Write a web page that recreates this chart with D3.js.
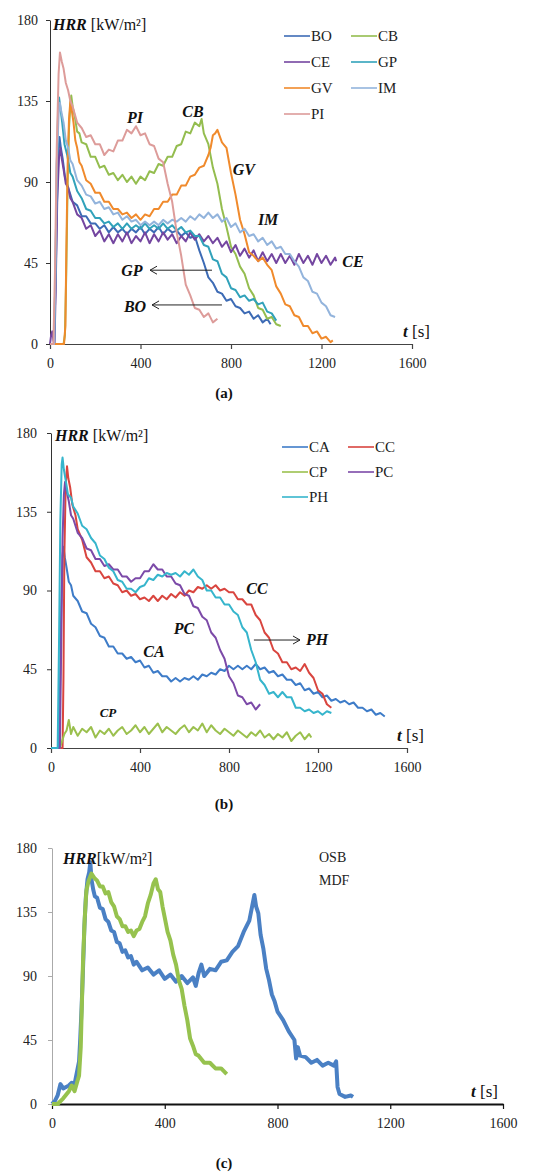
<!DOCTYPE html>
<html>
<head>
<meta charset="utf-8">
<script src="https://cdn.jsdelivr.net/npm/d3@7"></script>
<style>
  body { margin: 0; background: #fff; }
  svg { display: block; font-family: "Liberation Serif", "Times New Roman", serif; }
</style>
</head>
<body>
<svg id="chart" width="552" height="1174"></svg>
<script>
// tick labels
const xTicks = [0, 400, 800, 1200, 1600];
const yTicks = [0, 45, 90, 135, 180];

// panel (a) series: [t (s), HRR (kW/m2)]
const BO = [[0,0],[18,0],[24,30],[32,85],[38,108],[42,115],[48,109],[56,103],[66,93],[80,87],[100,79],[120,77],[140,71],[160,71],[180,67],[200,67],[220,64],[240,66],[260,62],[280,65],[300,62],[320,64],[340,61],[360,64],[380,62],[400,65],[420,61],[440,64],[460,62],[480,65],[500,61],[520,64],[540,62],[560,63],[580,60],[600,62],[620,59],[640,60],[660,52],[680,45],[700,37],[720,34],[740,29],[760,28],[780,24],[800,25],[820,21],[840,20],[860,17],[880,18],[900,14],[920,16],[940,12],[960,14],[975,11]];
const CB = [[0,0],[60,0],[66,5],[72,40],[78,90],[84,120],[90,133],[94,138],[100,132],[110,126],[120,118],[130,117],[140,112],[160,111],[180,104],[200,104],[220,98],[240,99],[260,94],[280,95],[300,91],[320,94],[340,90],[360,93],[380,89],[400,93],[420,91],[440,96],[460,95],[480,100],[500,99],[520,104],[540,104],[560,110],[580,111],[600,118],[620,117],[640,123],[660,121],[670,125],[680,117],[700,111],[720,98],[740,89],[760,75],[780,65],[800,54],[820,50],[840,43],[860,39],[880,31],[900,27],[920,20],[940,19],[960,14],[980,15],[1000,11],[1020,10]];
const CE = [[0,0],[5,5],[10,7],[15,2],[20,0],[25,30],[32,80],[40,104],[46,109],[52,103],[60,97],[70,89],[80,87],[90,81],[100,79],[120,72],[140,70],[160,64],[180,66],[200,60],[220,63],[240,57],[260,61],[280,56],[300,61],[320,57],[340,62],[360,56],[380,60],[400,57],[420,62],[440,56],[460,61],[480,57],[500,62],[520,58],[540,61],[560,56],[580,60],[600,57],[620,62],[640,58],[660,61],[680,57],[700,60],[720,56],[740,59],[760,54],[780,57],[800,51],[820,55],[840,49],[860,53],[880,48],[900,52],[920,46],[940,51],[960,46],[980,50],[1000,45],[1020,50],[1040,45],[1060,49],[1080,44],[1100,50],[1120,45],[1140,49],[1160,44],[1180,50],[1200,45],[1220,49],[1240,44],[1260,48],[1265,46]];
const GP = [[0,0],[18,0],[24,40],[30,100],[36,130],[40,137],[46,131],[54,123],[64,111],[76,105],[90,95],[100,93],[120,85],[140,81],[160,75],[180,74],[200,70],[220,70],[240,67],[260,68],[280,65],[300,67],[320,64],[340,67],[360,64],[380,66],[400,64],[420,67],[440,64],[460,66],[480,64],[500,67],[520,64],[540,66],[560,63],[580,65],[600,62],[620,63],[640,60],[660,60],[680,55],[700,54],[720,47],[740,46],[760,39],[780,37],[800,31],[820,30],[840,26],[860,27],[880,24],[900,25],[920,22],[940,23],[960,18],[980,17],[1000,13]];
const GV = [[0,0],[62,0],[68,10],[72,50],[78,100],[84,125],[90,135],[96,130],[104,123],[112,113],[120,109],[130,101],[140,99],[160,91],[180,89],[200,84],[220,84],[240,79],[260,79],[280,75],[300,75],[320,72],[340,73],[360,70],[380,72],[400,69],[420,72],[440,71],[460,75],[480,75],[500,79],[520,79],[540,83],[560,83],[580,88],[600,88],[620,93],[640,94],[660,98],[680,99],[700,105],[710,109],[720,116],[730,117],[740,119],[760,112],[780,109],[800,95],[820,83],[840,69],[860,61],[880,51],[900,49],[920,46],[940,48],[960,44],[980,41],[1000,32],[1020,28],[1040,22],[1060,21],[1080,16],[1100,15],[1120,10],[1140,10],[1160,6],[1180,7],[1200,3],[1220,4],[1240,1],[1250,2]];
const IM = [[0,0],[18,0],[24,40],[30,100],[38,128],[44,134],[50,129],[60,123],[70,113],[80,109],[90,102],[100,100],[120,91],[140,88],[160,83],[180,82],[200,78],[220,79],[240,75],[260,76],[280,72],[300,73],[320,69],[340,71],[360,68],[380,69],[400,66],[420,68],[440,66],[460,68],[480,66],[500,69],[520,67],[540,69],[560,68],[580,70],[600,68],[620,71],[640,69],[660,72],[680,70],[700,73],[720,70],[740,72],[760,68],[780,70],[800,65],[820,67],[840,62],[860,64],[880,60],[900,61],[920,57],[940,59],[960,55],[980,57],[1000,53],[1020,54],[1040,50],[1060,50],[1080,46],[1100,43],[1120,37],[1140,35],[1160,29],[1180,28],[1200,23],[1220,21],[1240,16],[1260,15]];
const PI = [[0,0],[15,0],[22,40],[30,110],[38,150],[44,162],[52,157],[60,153],[70,145],[80,141],[90,135],[100,132],[120,123],[140,120],[160,115],[180,116],[200,111],[220,111],[240,105],[260,108],[280,107],[300,113],[320,113],[340,119],[360,117],[380,121],[400,116],[420,117],[440,111],[460,110],[480,103],[500,101],[520,89],[540,79],[560,62],[580,49],[600,33],[620,27],[640,20],[660,19],[680,15],[700,17],[720,12],[740,14]];

// panel (b) series
const CA = [[0,0],[35,0],[40,30],[46,80],[52,110],[56,115],[62,109],[70,103],[80,95],[90,93],[100,87],[120,84],[140,78],[160,77],[180,71],[200,69],[220,64],[240,63],[260,58],[280,58],[300,54],[320,54],[340,51],[360,52],[380,49],[400,50],[420,46],[440,47],[460,43],[480,44],[500,41],[520,41],[540,38],[560,40],[580,38],[600,40],[620,39],[640,41],[660,39],[680,42],[700,41],[720,43],[740,42],[760,45],[780,44],[800,47],[820,45],[840,47],[860,45],[880,47],[900,45],[920,48],[940,45],[960,46],[980,43],[1000,44],[1020,41],[1040,42],[1060,39],[1080,39],[1100,36],[1120,37],[1140,33],[1160,34],[1180,31],[1200,32],[1220,29],[1240,30],[1260,27],[1280,28],[1300,26],[1320,27],[1340,25],[1360,26],[1380,23],[1400,23],[1420,21],[1440,22],[1460,19],[1480,20],[1500,18]];
const CC = [[0,0],[52,0],[56,40],[60,110],[66,150],[72,161],[78,154],[86,149],[96,139],[110,133],[120,125],[140,119],[160,109],[180,106],[200,101],[220,101],[240,97],[260,98],[280,94],[300,93],[320,89],[340,90],[360,87],[380,88],[400,85],[420,86],[440,84],[460,87],[480,84],[500,87],[520,85],[540,88],[560,86],[580,89],[600,87],[620,90],[640,89],[660,92],[680,91],[700,93],[720,91],[740,93],[760,90],[780,91],[800,89],[820,89],[840,85],[860,85],[880,82],[900,82],[920,76],[940,73],[960,66],[980,63],[1000,56],[1020,54],[1040,49],[1060,49],[1080,45],[1100,46],[1120,44],[1140,48],[1160,43],[1180,40],[1200,33],[1220,31],[1240,25],[1260,23]];
const CP = [[0,0],[40,0],[50,4],[60,8],[70,10],[80,16],[90,8],[100,12],[120,7],[140,11],[160,9],[180,12],[200,6],[220,10],[240,8],[260,11],[280,7],[300,10],[320,12],[340,8],[360,10],[380,13],[400,9],[420,12],[440,8],[460,11],[480,14],[500,9],[520,12],[540,10],[560,8],[580,11],[600,13],[620,9],[640,12],[660,10],[680,14],[700,9],[720,13],[740,10],[760,8],[780,11],[800,9],[820,7],[840,10],[860,8],[880,6],[900,9],[920,7],[940,10],[960,6],[980,8],[1000,5],[1020,8],[1040,6],[1060,9],[1080,4],[1100,7],[1120,9],[1140,5],[1160,8],[1170,6]];
const PC = [[0,0],[40,0],[46,60],[52,120],[58,145],[63,152],[70,147],[80,141],[90,133],[100,131],[120,123],[140,120],[160,114],[180,113],[200,108],[220,108],[240,104],[260,105],[280,102],[300,102],[320,98],[340,98],[360,95],[380,97],[400,97],[420,101],[440,101],[460,105],[480,102],[500,102],[520,98],[540,98],[560,94],[580,93],[600,88],[620,87],[640,81],[660,80],[680,75],[700,73],[720,66],[740,63],[760,56],[780,51],[800,41],[820,37],[840,30],[860,29],[880,25],[900,26],[920,22],[940,25]];
const PH = [[0,0],[30,0],[36,60],[42,130],[48,162],[52,166],[58,159],[66,153],[76,145],[90,143],[100,138],[120,134],[140,127],[160,125],[180,120],[200,117],[220,110],[240,108],[260,103],[280,101],[300,96],[320,95],[340,91],[360,91],[380,89],[400,92],[420,93],[440,97],[460,96],[480,99],[500,98],[520,100],[540,99],[560,100],[580,98],[600,101],[620,99],[640,102],[660,98],[680,96],[700,90],[720,90],[740,86],[760,86],[780,82],[800,82],[820,78],[840,76],[860,69],[880,66],[900,56],[920,49],[940,39],[960,36],[980,31],[1000,32],[1020,29],[1040,32],[1060,29],[1080,29],[1100,23],[1120,23],[1140,21],[1160,22],[1180,20],[1200,21],[1220,19],[1240,21],[1260,20]];

// panel (c) series
const OSB = [[0,0],[10,2],[20,6],[30,14],[40,11],[50,12],[60,13],[70,15],[80,14],[90,24],[96,30],[100,45],[105,68],[110,95],[115,125],[120,145],[126,158],[132,163],[136,170],[140,158],[146,151],[152,146],[160,145],[170,138],[180,137],[190,130],[200,128],[210,122],[220,121],[230,114],[240,113],[250,107],[260,108],[270,103],[280,104],[290,98],[300,100],[320,94],[340,96],[360,91],[380,94],[400,88],[420,91],[440,86],[460,90],[480,85],[500,89],[510,83],[520,92],[530,98],[540,90],[560,95],[580,94],[600,100],[620,101],[640,107],[660,111],[680,121],[700,129],[710,139],[718,147],[724,139],[732,134],[740,119],[750,109],[760,95],[770,87],[780,77],[790,72],[800,65],[820,59],[840,51],[860,45],[866,32],[872,40],[880,34],[900,33],[920,29],[940,31],[960,27],[980,29],[1000,27],[1008,30],[1013,12],[1020,7],[1040,5],[1060,6],[1068,5]];
const MDF = [[0,0],[20,0],[40,4],[60,9],[70,13],[80,9],[90,16],[96,20],[102,40],[106,70],[110,100],[116,130],[122,150],[130,157],[140,162],[150,159],[160,157],[170,153],[180,153],[190,148],[200,149],[210,142],[220,139],[230,132],[240,130],[250,125],[260,125],[270,121],[280,122],[290,118],[300,122],[310,123],[320,128],[330,132],[340,141],[350,147],[360,155],[368,158],[376,151],[384,149],[392,139],[400,131],[410,121],[420,115],[430,105],[440,98],[450,87],[460,81],[470,69],[480,59],[490,46],[500,41],[510,35],[520,34],[540,29],[560,29],[580,25],[600,25],[620,21]];

// which series go in which panel (legend order)
const namesA = ["BO", "CB", "CE", "GP", "GV", "IM", "PI"];
const namesB = ["CA", "CC", "CP", "PC", "PH"];
const namesC = ["OSB", "MDF"];
const seriesData = { BO, CB, CE, GP, GV, IM, PI, CA, CC, CP, PC, PH, OSB, MDF };

// curve labels in data coords [text, t, hrr]
const notesA = [["PI", 376, 123], ["CB", 632, 126], ["GV", 857, 94], ["IM", 964, 66], ["CE", 1339, 43], ["GP", 362, 38], ["BO", 376, 18]];
const notesB = [["CC", 926, 88], ["PC", 598, 65], ["PH", 1196, 59], ["CA", 463, 52]];

const colors = {
  BO: "#3d6bb5", CB: "#94bd4f", CE: "#7446a0", GP: "#31a2ba", GV: "#f08a2c", IM: "#93b4dc", PI: "#dd9c9a",
  CA: "#3e7cc8", CC: "#d9453f", CP: "#9bc04e", PC: "#7c4aa8", PH: "#36b5cc",
  OSB: "#4a80c4", MDF: "#96c24e"
};

const serif = "Liberation Serif";
const svg = d3.select("#chart");

function panel(cfg) {
  const x = d3.scaleLinear().domain([0, 1600]).range([cfg.x0, cfg.x1]);
  const y = d3.scaleLinear().domain([0, 180]).range([cfg.y0, cfg.y1]);
  const g = svg.append("g");

  // axes
  const ya = g.append("g")
    .attr("transform", `translate(${cfg.x0},0)`)
    .call(d3.axisLeft(y).tickValues(yTicks).tickFormat(d3.format("d")).tickSize(4).tickSizeOuter(0).tickPadding(cfg.yPad));
  ya.select(".domain").attr("stroke", cfg.yAxisColor);
  ya.selectAll(".tick line").attr("stroke", cfg.yAxisColor);

  const xa = g.append("g")
    .attr("transform", `translate(0,${cfg.y0})`)
    .call(d3.axisBottom(x).tickValues(xTicks).tickFormat(d3.format("d")).tickSize(5).tickSizeOuter(0).tickPadding(9));
  xa.select(".domain").attr("stroke", cfg.xAxisColor).attr("stroke-width", cfg.xAxisWidth);
  xa.selectAll(".tick line").attr("stroke", cfg.xAxisColor).attr("stroke-width", 1.2);

  [ya, xa].forEach(a => a.attr("font-family", serif).attr("font-size", 14));
  g.selectAll(".tick text").attr("fill", "#222");

  // curves
  const line = d3.line().x(d => x(d[0])).y(d => y(d[1]));
  cfg.names.forEach(n => {
    g.append("path")
      .datum(seriesData[n])
      .attr("fill", "none")
      .attr("stroke", colors[n])
      .attr("stroke-width", cfg.lineWidth)
      .attr("stroke-linejoin", "round")
      .attr("d", line);
  });

  // axis titles
  const ht = g.append("text").attr("x", cfg.titleX).attr("y", cfg.titleY).attr("font-size", 16).attr("fill", "#111");
  ht.append("tspan").attr("font-weight", "bold").attr("font-style", "italic").text("HRR");
  ht.append("tspan").text(cfg.titleGap + "[kW/m²]");

  const tt = g.append("text").attr("x", cfg.x1 + cfg.tDx).attr("y", cfg.y0 - 7).attr("text-anchor", "end")
    .attr("font-size", 17).attr("fill", "#111");
  tt.append("tspan").attr("font-weight", "bold").attr("font-style", "italic").text("t");
  tt.append("tspan").text(" [s]");

  // panel caption
  g.append("text").attr("x", 224).attr("y", cfg.capY).attr("text-anchor", "middle")
    .attr("font-size", 15).attr("font-weight", "bold").attr("fill", "#111").text(cfg.caption);

  return { g, x, y };
}

function legend(g, names, cols, ly, rowH) {
  names.forEach((n, i) => {
    const r = Math.floor(i / 2), c = i % 2;
    const x0 = cols[c], yy = ly + r * rowH;
    g.append("line").attr("x1", x0).attr("x2", x0 + 26).attr("y1", yy).attr("y2", yy)
      .attr("stroke", colors[n]).attr("stroke-width", 1.6);
    g.append("text").attr("x", x0 + 27).attr("y", yy + 5).attr("font-size", 15).attr("fill", "#222").text(n);
  });
}

function notes(p, list, size) {
  list.forEach(d => {
    p.g.append("text").attr("x", p.x(d[1])).attr("y", p.y(d[2])).attr("text-anchor", "middle")
      .attr("font-size", size).attr("font-weight", "bold").attr("font-style", "italic").attr("fill", "#111").text(d[0]);
  });
}

function arrow(p, t1, t2, v) {
  const xa = p.x(t1), xb = p.x(t2), yy = p.y(v);
  const dir = xb > xa ? -1 : 1;
  p.g.append("path")
    .attr("d", `M${xa},${yy}L${xb},${yy}M${xb + dir * 7},${yy - 4}L${xb},${yy}L${xb + dir * 7},${yy + 4}`)
    .attr("fill", "none").attr("stroke", "#222").attr("stroke-width", 1);
}

// (a)
const pa = panel({ x0: 50, x1: 412, y0: 344, y1: 20, names: namesA, lineWidth: 2, yPad: 8,
  yAxisColor: "#333", xAxisColor: "#444", xAxisWidth: 1.2, titleX: 53, titleY: 30, titleGap: " ",
  tDx: 18, caption: "(a)", capY: 398 });
legend(pa.g, namesA, [284, 351], 36, 26);
notes(pa, notesA, 16);
arrow(pa, 716, 442, 41);
arrow(pa, 760, 451, 21.7);

// (b)
const pb = panel({ x0: 51, x1: 407, y0: 748, y1: 433, names: namesB, lineWidth: 2, yPad: 10,
  yAxisColor: "#333", xAxisColor: "#444", xAxisWidth: 1.2, titleX: 55, titleY: 441, titleGap: " ",
  tDx: 17, caption: "(b)", capY: 809 });
legend(pb.g, namesB, [282, 348], 447, 25);
notes(pb, notesB, 16);
notes(pb, [["CP", 256, 18]], 13);
arrow(pb, 912, 1119, 61.7);

// (c)
const pc = panel({ x0: 52, x1: 503, y0: 1104, y1: 848, names: namesC, lineWidth: 4, yPad: 11,
  yAxisColor: "#aaa", xAxisColor: "#111", xAxisWidth: 2, titleX: 63, titleY: 864, titleGap: "",
  tDx: -5, caption: "(c)", capY: 1168 });
pc.g.append("text").attr("x", 319).attr("y", 862).attr("font-size", 14).attr("fill", "#222").text("OSB");
pc.g.append("text").attr("x", 319).attr("y", 885).attr("font-size", 14).attr("fill", "#222").text("MDF");
</script>
</body>
</html>
